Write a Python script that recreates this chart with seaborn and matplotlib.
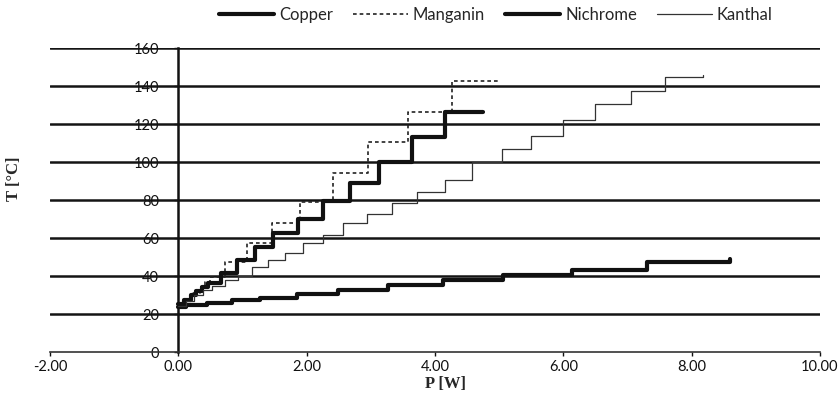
import matplotlib
matplotlib.use("Agg")
import matplotlib.pyplot as plt
import seaborn as sns
import pandas as pd

# ---- data ----
copper_p = [0.00, 0.12, 0.45, 0.84, 1.28, 1.85, 2.49, 3.27, 4.13, 5.06, 6.14, 7.31, 8.60]
copper_t = [23.5, 25.0, 26.0, 27.4, 28.6, 30.4, 32.6, 35.3, 37.9, 40.5, 43.2, 47.2, 49.0]

manganin_p = [0.00, 0.11, 0.22, 0.33, 0.42, 0.50, 0.73, 1.07, 1.46, 1.90, 2.41, 2.96, 3.58, 4.27, 5.02]
manganin_t = [25.0, 28.0, 31.0, 34.0, 37.0, 39.5, 47.5, 57.5, 68.0, 79.0, 94.0, 110.7, 126.5, 142.8, 142.8]

nichrome_p = [0.00, 0.09, 0.19, 0.28, 0.37, 0.47, 0.67, 0.92, 1.20, 1.48, 1.87, 2.26, 2.68, 3.12, 3.64, 4.16, 4.75]
nichrome_t = [25.5, 27.5, 30.0, 32.0, 34.0, 36.5, 41.5, 48.4, 55.4, 62.8, 70.0, 79.5, 89.1, 100.2, 113.3, 126.2, 126.2]

kanthal_p = [0.00, 0.12, 0.25, 0.39, 0.53, 0.73, 0.93, 1.15, 1.40, 1.67, 1.95, 2.26, 2.57, 2.94,
             3.33, 3.72, 4.16, 4.58, 5.05, 5.50, 6.00, 6.50, 7.06, 7.59, 8.18]
kanthal_t = [24.0, 27.0, 30.0, 32.5, 35.0, 37.9, 40.0, 45.0, 48.5, 52.0, 57.5, 61.6, 67.7, 72.6,
             78.5, 84.4, 90.5, 100.2, 106.8, 113.8, 122.1, 130.5, 137.5, 144.6, 146.0]

series_names = ["Copper", "Manganin", "Nichrome", "Kanthal"]
x_ticks = [-2, 0, 2, 4, 6, 8, 10]
x_tick_labels = ["-2.00", "0.00", "2.00", "4.00", "6.00", "8.00", "10.00"]
y_ticks = [0, 20, 40, 60, 80, 100, 120, 140, 160]

# ---- figure ----
sns.set_theme(style="white")
plt.rcParams["font.family"] = ["Lato", "DejaVu Sans"]

fig = plt.figure(figsize=(8.39, 3.96), dpi=100)
ax = fig.add_axes([50 / 839, 44 / 396, 770 / 839, 304 / 396])

styles = {
    "Copper": dict(color="#111111", linewidth=3.0, linestyle="-"),
    "Manganin": dict(color="#222222", linewidth=1.2, linestyle=(0, (2.2, 1.8))),
    "Nichrome": dict(color="#111111", linewidth=3.0, linestyle="-"),
    "Kanthal": dict(color="#333333", linewidth=0.9, linestyle="-"),
}
data = {
    "Copper": (copper_p, copper_t),
    "Manganin": (manganin_p, manganin_t),
    "Nichrome": (nichrome_p, nichrome_t),
    "Kanthal": (kanthal_p, kanthal_t),
}

# horizontal gridlines
for yv in y_ticks[1:]:
    ax.axhline(yv, color="#141414", linewidth=1.8, zorder=1)

for name in series_names:
    px, ty = data[name]
    df = pd.DataFrame({"P": px, "T": ty})
    sns.lineplot(data=df, x="P", y="T", ax=ax, estimator=None, sort=False,
                 drawstyle="steps-post", label=name, zorder=3, **styles[name])

ax.set_xlim(-2, 10)
ax.set_ylim(0, 160)
ax.set_xticks(x_ticks)
ax.set_xticklabels(x_tick_labels)
ax.set_yticks(y_ticks)

for s in ["top", "right"]:
    ax.spines[s].set_visible(False)
ax.spines["left"].set_position(("data", 0))
ax.spines["left"].set_color("#111111")
ax.spines["left"].set_linewidth(1.8)
ax.spines["bottom"].set_color("#333333")
ax.spines["bottom"].set_linewidth(1.2)
ax.spines["left"].set_zorder(2)

ax.tick_params(axis="both", which="major", labelsize=10.5, colors="#111111",
               direction="out", length=3, width=1)
ax.tick_params(axis="y", pad=11)
ax.tick_params(axis="x", pad=3)
ax.tick_params(axis="x", bottom=True)
ax.tick_params(axis="y", left=True)
for lbl in ax.get_yticklabels():
    lbl.set_zorder(0)

ax.set_xlabel("P [W]", family=["Liberation Serif"], fontweight="bold", fontsize=12)
ax.set_ylabel("T [°C]", family=["Liberation Serif"], fontweight="bold", fontsize=12)
ax.xaxis.set_label_coords(0.514, -0.08)
ax.yaxis.set_label_coords(-0.036, 0.57)

handles, labels = ax.get_legend_handles_labels()
ax.legend(handles, labels, loc="center", bbox_to_anchor=(0.591, 0.962),
          bbox_transform=fig.transFigure, ncol=4, frameon=False,
          fontsize=12, handlelength=3.3, handletextpad=0.3, columnspacing=1.2)

fig.savefig("out.png", dpi=100)
